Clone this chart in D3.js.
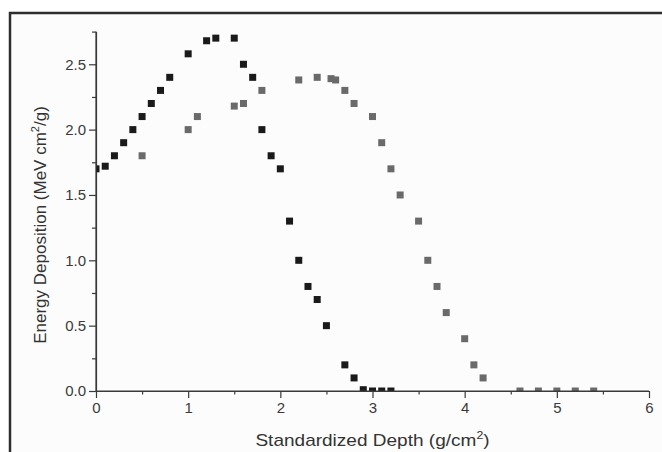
<!DOCTYPE html>
<html>
<head>
<meta charset="utf-8">
<script src="https://cdn.jsdelivr.net/npm/d3@7"></script>
<style>
  body { margin: 0; background: #fff; }
  svg { display: block; font-family: "Liberation Sans", Arial, sans-serif; }
  .axis path, .axis line { stroke: #3a3a3a; stroke-width: 1.2; }
  .axis text { fill: #3a3a3a; font-size: 15px; font-family: "Liberation Sans", Arial, sans-serif; }
  .title { fill: #333; font-size: 17px; }
</style>
</head>
<body>
<div id="chart"></div>
<script>
const width = 662;
const height = 452;

// black series
const depthA  = [0, 0.1, 0.2, 0.3, 0.4, 0.5, 0.6, 0.7, 0.8, 1.0, 1.2, 1.3, 1.5, 1.6, 1.7, 1.8, 1.9, 2.0, 2.1, 2.2, 2.3, 2.4, 2.5, 2.7, 2.8, 2.9, 3.0, 3.1, 3.2];
const energyA = [1.70, 1.72, 1.80, 1.90, 2.00, 2.10, 2.20, 2.30, 2.40, 2.58, 2.68, 2.70, 2.70, 2.50, 2.40, 2.00, 1.80, 1.70, 1.30, 1.00, 0.80, 0.70, 0.50, 0.20, 0.10, 0.01, 0.0, 0.0, 0.0];

// gray series
const depthB  = [0.5, 1.0, 1.1, 1.5, 1.6, 1.8, 2.2, 2.4, 2.55, 2.6, 2.7, 2.8, 3.0, 3.1, 3.2, 3.3, 3.5, 3.6, 3.7, 3.8, 4.0, 4.1, 4.2, 4.6, 4.8, 5.0, 5.2, 5.4];
const energyB = [1.80, 2.00, 2.10, 2.18, 2.20, 2.30, 2.38, 2.40, 2.39, 2.38, 2.30, 2.20, 2.10, 1.90, 1.70, 1.50, 1.30, 1.00, 0.80, 0.60, 0.40, 0.20, 0.10, 0.0, 0.0, 0.0, 0.0, 0.0];

const xTicks = [0, 1, 2, 3, 4, 5, 6];
const xMinor = [0.5, 1.5, 2.5, 3.5, 4.5, 5.5];
const yTicks = [0, 0.5, 1.0, 1.5, 2.0, 2.5];
const yMinor = [0.25, 0.75, 1.25, 1.75, 2.25, 2.75];

const margin = { top: 31.6, right: 13, bottom: 61, left: 96 };
const sq = 7;

const svg = d3.select("#chart").append("svg")
   .attr("width", width)
   .attr("height", height);

// frame
svg.append("rect")
   .attr("x", 10).attr("y", 13)
   .attr("width", width + 10).attr("height", height + 10)
   .style("fill", "#fcfcfc")
   .style("stroke", "#2e2e2e")
   .style("stroke-width", 2.5);

const x = d3.scaleLinear()
   .domain([0, 6])
   .range([margin.left, width - margin.right]);

const y = d3.scaleLinear()
   .domain([0, 2.75])
   .range([height - margin.bottom, margin.top]);

// clip points to plot area
svg.append("clipPath").attr("id", "plotClip")
   .append("rect")
   .attr("x", x(0)).attr("y", y(2.75) - sq)
   .attr("width", x(6) - x(0) + sq)
   .attr("height", y(0) - y(2.75) + sq);

// minor ticks
svg.append("g").attr("class", "axis")
   .attr("transform", `translate(0,${y(0)})`)
   .call(d3.axisBottom(x).tickValues(xMinor).tickSize(3.5).tickFormat(""))
   .call(g => g.select(".domain").remove());

svg.append("g").attr("class", "axis")
   .attr("transform", `translate(${x(0)},0)`)
   .call(d3.axisLeft(y).tickValues(yMinor).tickSize(4).tickFormat(""))
   .call(g => g.select(".domain").remove());

// major axes
svg.append("g").attr("class", "axis")
   .attr("transform", `translate(0,${y(0)})`)
   .call(d3.axisBottom(x).tickValues(xTicks).tickSizeInner(7).tickSizeOuter(0).tickPadding(4).tickFormat(d3.format("d")));

svg.append("g").attr("class", "axis")
   .attr("transform", `translate(${x(0)},0)`)
   .call(d3.axisLeft(y).tickValues(yTicks).tickSizeInner(7).tickSizeOuter(0).tickPadding(3).tickFormat(d3.format(".1f")));

const points = svg.append("g").attr("clip-path", "url(#plotClip)");

points.selectAll("rect.b")
   .data(depthB.map((d, i) => ({ x: d, y: energyB[i] })))
   .enter().append("rect")
   .attr("class", "b")
   .attr("x", d => x(d.x) - sq / 2)
   .attr("y", d => y(d.y) - sq / 2)
   .attr("width", sq).attr("height", sq)
   .style("fill", "#6a6a6a");

points.selectAll("rect.a")
   .data(depthA.map((d, i) => ({ x: d, y: energyA[i] })))
   .enter().append("rect")
   .attr("class", "a")
   .attr("x", d => x(d.x) - sq / 2)
   .attr("y", d => y(d.y) - sq / 2)
   .attr("width", sq).attr("height", sq)
   .style("fill", "#1a1a1a");

// redraw axis lines on top of the clipped points
svg.append("line")
   .attr("x1", x(0)).attr("x2", x(6))
   .attr("y1", y(0)).attr("y2", y(0))
   .style("stroke", "#3a3a3a").style("stroke-width", 1.2);
svg.append("line")
   .attr("x1", x(0)).attr("x2", x(0))
   .attr("y1", y(0)).attr("y2", y(2.75))
   .style("stroke", "#3a3a3a").style("stroke-width", 1.2);

// axis titles
const xt = svg.append("text")
   .attr("class", "title")
   .attr("transform", `translate(${(x(0) + x(6)) / 2},446) scale(1.12,1)`)
   .style("text-anchor", "middle");
xt.append("tspan").text("Standardized Depth (g/cm");
xt.append("tspan").attr("dy", -7).style("font-size", "11px").text("2");
xt.append("tspan").attr("dy", 7).text(")");

const yt = svg.append("text")
   .attr("class", "title")
   .attr("transform", "translate(46,225) rotate(-90)")
   .style("text-anchor", "middle");
yt.append("tspan").text("Energy Deposition (MeV cm");
yt.append("tspan").attr("dy", -7).style("font-size", "11px").text("2");
yt.append("tspan").attr("dy", 7).text("/g)");
</script>
</body>
</html>
